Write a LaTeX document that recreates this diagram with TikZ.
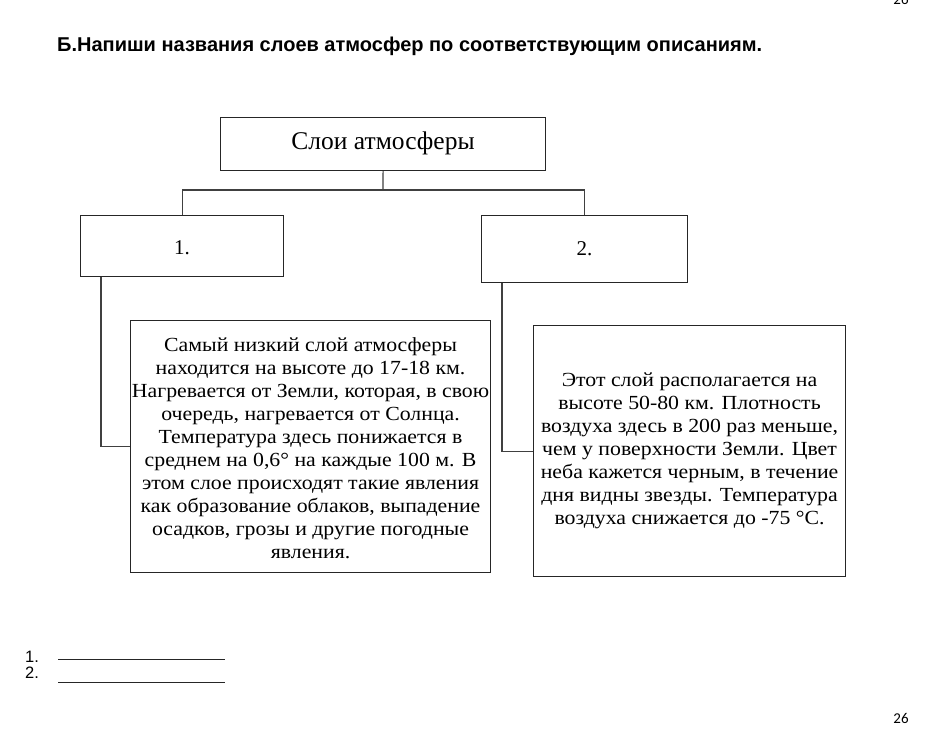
\documentclass[tikz,border=0pt]{standalone}
\usepackage{fontspec}
\setmainfont{Liberation Serif}
\newfontfamily\wideserif[FakeStretch=1.09]{Liberation Serif}
\newfontfamily\arialf{Liberation Sans}
\newfontfamily\calf{Carlito}
\begin{document}
\begin{tikzpicture}[x=1pt,y=-1pt,
  box/.style={draw=black!85,line width=1.1pt,rectangle,inner sep=0pt,anchor=north west},
  conn/.style={draw=black!75,line width=1.1pt},
  desc/.style={align=center,font=\wideserif\fontsize{20}{23}\selectfont,inner sep=0pt},
  ans/.style={draw=black!85,line width=0.9pt}]
\useasboundingbox[fill=white] (0,0) rectangle (931,732);
\node[font=\calf\fontsize{15}{18}\selectfont,anchor=center] (pgtop) at (901,-1) {26};
\node[font=\arialf\bfseries\fontsize{20}{22}\selectfont,anchor=west,inner sep=0pt] (title) at (57,46) {Б.Напиши названия слоев атмосфер по соответствующим описаниям.};
\node[box,minimum width=325pt,minimum height=53pt] (top) at (220,117) {};
\node[font=\fontsize{25.5}{28}\selectfont] at ([yshift=1pt]top.center) {Слои атмосферы};
\node[box,minimum width=203pt,minimum height=61pt] (b1) at (80,215) {};
\node[font=\fontsize{21}{24}\selectfont] at ([yshift=-2pt]b1.center) {1.};
\node[box,minimum width=206pt,minimum height=67pt] (b2) at (481,215) {};
\node[font=\fontsize{21}{24}\selectfont] at (b2.center) {2.};
\node[box,minimum width=360pt,minimum height=252pt] (d1) at (130,320) {};
\node[box,minimum width=312pt,minimum height=251pt] (d2) at (533,325) {};
\node[desc] at ([yshift=-2pt]d1.center) {Самый низкий слой атмосферы\\находится на высоте до 17-18 км.\\Нагревается от Земли, которая, в свою\\очередь, нагревается от Солнца.\\Температура здесь понижается в\\среднем на 0,6° на каждые 100 м. В\\этом слое происходят такие явления\\как образование облаков, выпадение\\осадков, грозы и другие погодные\\явления.};
\node[desc] at ([yshift=0pt]d2.center) {Этот слой располагается на\\высоте 50-80 км. Плотность\\воздуха здесь в 200 раз меньше,\\чем у поверхности Земли. Цвет\\неба кажется черным, в течение\\дня видны звезды. Температура\\воздуха снижается до -75 °С.};
\coordinate (j) at (383,190);
\draw[conn] (top.south) -- (j);
\draw[conn] (b1.north) |- (j) -| (b2.north);
\draw[conn] ([xshift=21pt]b1.south west) |- (d1.west);
\draw[conn] ([xshift=21pt]b2.south west) |- (d2.west);
\node[font=\arialf\fontsize{16.5}{19}\selectfont,anchor=west,inner sep=0pt] (n1) at (25,657) {1.};
\node[font=\arialf\fontsize{16.5}{19}\selectfont,anchor=west,inner sep=0pt] (n2) at (25,673) {2.};
\coordinate (l1a) at (58,659); \coordinate (l1b) at (225,659);
\coordinate (l2a) at (58,682); \coordinate (l2b) at (225,682);
\draw[ans] (l1a) -- (l1b);
\draw[ans] (l2a) -- (l2b);
\node[font=\calf\fontsize{15}{18}\selectfont,anchor=center] (pgbot) at (901,718) {26};
\end{tikzpicture}
\end{document}
